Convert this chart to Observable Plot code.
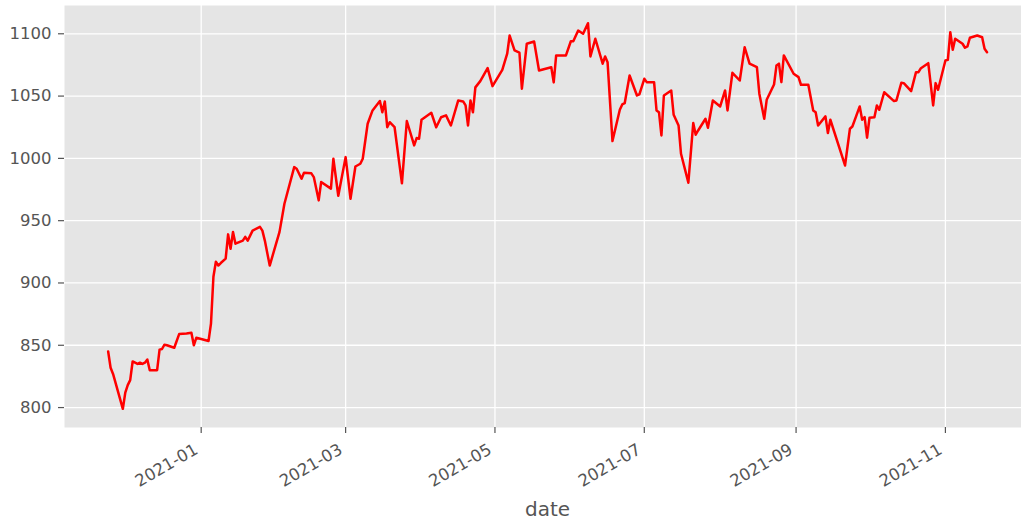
<!DOCTYPE html>
<html>
<head>
<meta charset="utf-8">
<script src="https://cdn.jsdelivr.net/npm/d3@7"></script>
<script src="https://cdn.jsdelivr.net/npm/@observablehq/plot@0.6"></script>
<style>
  html, body { margin: 0; padding: 0; background: white; }
  #chart svg { display: block; }
</style>
</head>
<body>
<div id="chart"></div>
<script>
// Dates (trading-day vertices)
const dates = [
  "2020-11-24","2020-11-25","2020-11-26","2020-11-30","2020-12-01","2020-12-02","2020-12-03","2020-12-04",
  "2020-12-06","2020-12-07","2020-12-08","2020-12-09","2020-12-10","2020-12-11","2020-12-14","2020-12-15",
  "2020-12-16","2020-12-17","2020-12-18","2020-12-21","2020-12-23","2020-12-26","2020-12-28","2020-12-29",
  "2020-12-30","2021-01-01","2021-01-04","2021-01-05","2021-01-06","2021-01-07","2021-01-08","2021-01-09",
  "2021-01-11","2021-01-12","2021-01-13","2021-01-14","2021-01-15","2021-01-18","2021-01-19","2021-01-20",
  "2021-01-22","2021-01-25","2021-01-26","2021-01-27","2021-01-29","2021-02-02","2021-02-04","2021-02-08",
  "2021-02-09","2021-02-11","2021-02-12","2021-02-15","2021-02-16","2021-02-18","2021-02-19","2021-02-23",
  "2021-02-24","2021-02-26","2021-03-01","2021-03-03","2021-03-05","2021-03-07","2021-03-08","2021-03-10",
  "2021-03-12","2021-03-15","2021-03-16","2021-03-17","2021-03-18","2021-03-19","2021-03-21","2021-03-24",
  "2021-03-26","2021-03-29","2021-03-30","2021-03-31","2021-04-01","2021-04-05","2021-04-07","2021-04-09",
  "2021-04-11","2021-04-13","2021-04-16","2021-04-18","2021-04-19","2021-04-20","2021-04-21","2021-04-22",
  "2021-04-23","2021-04-25","2021-04-28","2021-04-30","2021-05-04","2021-05-06","2021-05-07","2021-05-09",
  "2021-05-11","2021-05-12","2021-05-14","2021-05-17","2021-05-19","2021-05-24","2021-05-25","2021-05-26",
  "2021-05-30","2021-06-01","2021-06-02","2021-06-04","2021-06-06","2021-06-08","2021-06-09","2021-06-11",
  "2021-06-14","2021-06-15","2021-06-16","2021-06-18","2021-06-21","2021-06-22","2021-06-23","2021-06-25",
  "2021-06-28","2021-06-29","2021-07-01","2021-07-02","2021-07-05","2021-07-06","2021-07-07","2021-07-08",
  "2021-07-09","2021-07-12","2021-07-13","2021-07-15","2021-07-16","2021-07-19","2021-07-21","2021-07-22",
  "2021-07-23","2021-07-26","2021-07-27","2021-07-29","2021-08-01","2021-08-03","2021-08-04","2021-08-06",
  "2021-08-09","2021-08-11","2021-08-13","2021-08-16","2021-08-17","2021-08-19","2021-08-20","2021-08-23",
  "2021-08-24","2021-08-25","2021-08-26","2021-08-27","2021-08-31","2021-09-02","2021-09-03","2021-09-06",
  "2021-09-08","2021-09-09","2021-09-10","2021-09-13","2021-09-14","2021-09-15","2021-09-21","2021-09-23",
  "2021-09-24","2021-09-27","2021-09-28","2021-09-29","2021-09-30","2021-10-01","2021-10-03","2021-10-04",
  "2021-10-05","2021-10-07","2021-10-11","2021-10-12","2021-10-14","2021-10-15","2021-10-18","2021-10-20",
  "2021-10-21","2021-10-22","2021-10-25","2021-10-27","2021-10-28","2021-10-29","2021-11-01","2021-11-02",
  "2021-11-03","2021-11-04","2021-11-05","2021-11-08","2021-11-09","2021-11-10","2021-11-11","2021-11-14",
  "2021-11-16","2021-11-17","2021-11-18"
];
const values = [
  845, 832, 827, 799, 812, 818, 822, 837,
  835, 836, 835, 836, 838.5, 830, 830, 846.5,
  847, 850.5, 850, 848, 859, 859.4, 860, 850,
  856, 855, 853.4, 867.4, 905, 917, 914, 916,
  919.5, 939, 927.5, 941, 931.5, 934, 937, 934,
  942, 945, 942, 934, 914, 941, 963.6, 993,
  991.7, 983.7, 988.5, 988, 985, 966.3, 981, 975.7,
  999.7, 970, 1001, 967.6, 993.5, 995.7, 999.7, 1027.8,
  1038.5, 1046, 1037, 1045.7, 1025, 1029, 1025, 980,
  1030, 1010.4, 1016.3, 1015.8, 1031, 1036.6, 1025, 1033,
  1034.5, 1026.4, 1046.5, 1045.7, 1042.5, 1026.4, 1046.5, 1037,
  1057, 1062, 1072.4, 1058, 1071, 1084, 1098.6, 1086.6,
  1084.8, 1055.9, 1092, 1093.8, 1070.5, 1073.2, 1061, 1082.6,
  1082.6, 1094, 1094, 1102.6, 1100, 1108.5, 1081.8, 1096,
  1076, 1081.8, 1077.2, 1013.9, 1039, 1043.3, 1044.3, 1066.5,
  1050.5, 1051.3, 1063.9, 1061.2, 1061.2, 1038.5, 1037.1, 1018.4,
  1050.5, 1054.5, 1035, 1026.4, 1003.7, 980.5, 1028.3, 1019,
  1022.4, 1031.8, 1024.6, 1046.5, 1041.7, 1054.5, 1038.5, 1068.7,
  1062.5, 1089.2, 1076, 1073.2, 1051.9, 1031.8, 1047, 1059.3,
  1074.6, 1076, 1061.2, 1082.6, 1067.9, 1065.2, 1059.1, 1059.1,
  1038.5, 1037.1, 1026.4, 1033.7, 1020.3, 1031, 994.3, 1023.8,
  1025.6, 1041.7, 1031, 1033.1, 1016.6, 1032.6, 1033.1, 1042.5,
  1039, 1053.1, 1046, 1046.5, 1060.7, 1060.4, 1054, 1069.2,
  1069.2, 1072.4, 1076.4, 1042.5, 1060.4, 1055.1, 1078.6, 1079.1,
  1101.3, 1087.2, 1096, 1092, 1088.8, 1089.8, 1096.8, 1098.6,
  1097.2, 1087.9, 1085.2
];
const xTicks = ["2021-01-01","2021-03-01","2021-05-01","2021-07-01","2021-09-01","2021-11-01"];
const yTicks = [800, 850, 900, 950, 1000, 1050, 1100];
const xLabel = "date";

const data = dates.map((d, i) => ({date: new Date(d + "T00:00:00Z"), value: values[i]}));
const xTickDates = xTicks.map(d => new Date(d + "T00:00:00Z"));
const fmt = d3.utcFormat("%Y-%m");

const chart = Plot.plot({
  width: 1021,
  height: 525,
  marginLeft: 64,
  marginRight: 0,
  marginTop: 5,
  marginBottom: 98,
  style: {fontFamily: "DejaVu Sans", background: "white", overflow: "visible"},
  x: {type: "utc", domain: [new Date("2020-11-06T04:00:00Z"), new Date("2021-12-02T02:00:00Z")]},
  y: {domain: [784, 1122.7]},
  marks: [
    Plot.frame({fill: "#E5E5E5", stroke: null}),
    Plot.gridX(xTickDates, {stroke: "white", strokeOpacity: 1, strokeWidth: 1.3}),
    Plot.gridY(yTicks, {stroke: "white", strokeOpacity: 1, strokeWidth: 1.3}),
    Plot.axisY(yTicks, {tickSize: 6, tickPadding: 7, fontSize: 16.5, color: "#555555", strokeWidth: 1.2, label: null, tickFormat: d => String(d)}),
    Plot.axisX(xTickDates, {tickSize: 6, tickFormat: () => "", color: "#555555", strokeWidth: 1.2, label: null}),
    Plot.text(xTickDates, {x: d => d, frameAnchor: "bottom", text: d => fmt(d), rotate: -30, textAnchor: "end", lineAnchor: "top", dx: -8, dy: 15, fontSize: 16.5, fill: "#555555"}),
    Plot.text([xLabel], {frameAnchor: "bottom", text: d => d, dx: 4.5, dy: 88, lineAnchor: "bottom", fontSize: 20, fill: "#555555"}),
    Plot.lineY(data, {x: "date", y: "value", stroke: "red", strokeWidth: 2.5})
  ]
});
document.getElementById("chart").appendChild(chart);
</script>
</body>
</html>
